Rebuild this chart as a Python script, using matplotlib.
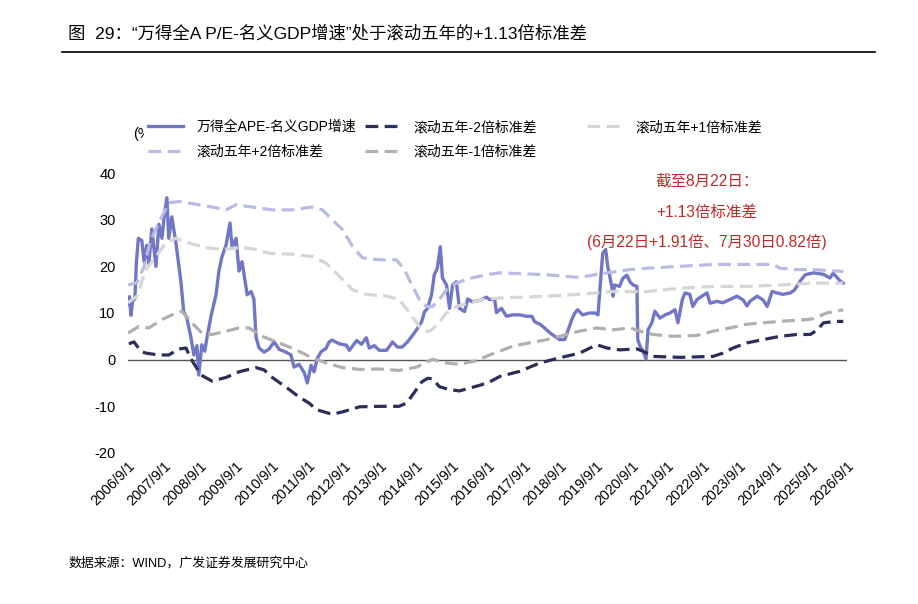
import pandas as pd
import matplotlib
matplotlib.use('Agg')
import matplotlib.pyplot as plt
from matplotlib.lines import Line2D

plt.rcParams['font.family'] = ['Liberation Sans', 'Noto Sans CJK SC', 'DejaVu Sans']
plt.rcParams['axes.unicode_minus'] = False

# ---- data ----
main_dates = [
    '2006-09-01', '2006-09-15', '2006-10-01', '2006-10-20', '2006-11-10', '2006-11-25', '2006-12-15',
    '2007-01-20', '2007-02-12', '2007-03-10', '2007-04-01', '2007-05-01', '2007-06-12', '2007-07-12',
    '2007-08-12', '2007-09-05', '2007-10-01', '2007-10-20', '2007-11-20', '2008-01-01', '2008-02-01',
    '2008-02-20', '2008-03-20', '2008-04-20', '2008-06-01', '2008-07-01', '2008-08-01', '2008-08-20',
    '2008-09-20', '2008-10-20', '2008-11-12', '2008-12-25', '2009-02-12', '2009-03-12', '2009-04-12',
    '2009-05-25', '2009-07-03', '2009-07-25', '2009-09-03', '2009-10-03', '2009-11-03', '2009-12-25',
    '2010-02-03', '2010-03-03', '2010-03-25', '2010-04-25', '2010-06-15', '2010-08-05', '2010-09-25',
    '2010-11-15', '2011-01-25', '2011-03-15', '2011-04-15', '2011-06-05', '2011-07-28', '2011-08-28',
    '2011-10-05', '2011-11-05', '2011-12-05', '2012-01-15', '2012-03-05', '2012-04-05', '2012-05-05',
    '2012-07-18', '2012-09-28', '2012-10-28', '2013-01-10', '2013-02-28', '2013-04-18', '2013-05-18',
    '2013-07-10', '2013-08-28', '2013-11-10', '2014-01-10', '2014-03-01', '2014-04-18', '2014-06-10',
    '2014-08-01', '2014-09-20', '2014-11-01', '2014-12-01', '2015-01-01', '2015-02-10', '2015-03-10',
    '2015-04-10', '2015-05-10', '2015-06-01', '2015-07-12', '2015-08-12', '2015-09-12', '2015-10-20',
    '2015-11-20', '2016-01-12', '2016-02-12', '2016-04-01', '2016-06-12', '2016-08-20', '2016-09-20',
    '2016-11-12', '2016-12-01', '2017-01-20', '2017-03-12', '2017-05-12', '2017-07-25', '2017-10-03',
    '2017-11-25', '2017-12-25', '2018-02-15', '2018-04-03', '2018-05-25', '2018-07-15', '2018-09-03',
    '2018-10-25', '2018-11-25', '2019-01-05', '2019-02-05', '2019-03-05', '2019-04-25', '2019-07-05',
    '2019-08-28', '2019-09-28', '2019-10-15', '2019-11-15', '2019-12-15', '2020-01-05', '2020-02-15',
    '2020-02-28', '2020-03-15', '2020-05-05', '2020-06-05', '2020-07-18', '2020-08-18', '2020-09-18',
    '2020-10-28', '2020-11-05', '2020-11-28', '2020-12-28', '2021-01-28', '2021-02-18', '2021-03-28',
    '2021-04-28', '2021-06-18', '2021-08-10', '2021-09-28', '2021-11-18', '2021-12-18', '2022-02-01',
    '2022-03-01', '2022-04-18', '2022-05-18', '2022-07-01', '2022-08-18', '2022-10-10', '2022-11-10',
    '2023-01-20', '2023-03-20', '2023-06-01', '2023-08-10', '2023-10-12', '2023-11-20', '2023-12-20',
    '2024-03-01', '2024-05-01', '2024-06-12', '2024-08-01', '2024-09-20', '2024-11-20', '2025-02-03',
    '2025-03-20', '2025-05-12', '2025-07-03', '2025-09-25', '2026-01-03', '2026-03-12', '2026-04-12',
    '2026-05-15', '2026-06-25', '2026-07-25',
]
main_vals = [
    12.0, 13.5, 9.5, 12.8, 13.0, 20.8, 26.0,
    25.5, 21.0, 24.5, 20.5, 28.0, 20.0, 29.0,
    26.0, 31.0, 34.7, 26.0, 30.6, 25.0, 20.0,
    16.8, 10.3, 9.0, 4.8, 1.0, 3.0, -3.3,
    3.2, 1.8, 4.8, 9.6, 14.0, 18.9, 22.0,
    24.6, 29.3, 24.0, 26.0, 19.0, 21.0, 13.9,
    14.6, 13.0, 4.8, 2.5, 1.6, 2.3, 3.8,
    2.2, 1.6, 1.0, -1.6, -1.0, -2.8, -5.0,
    -1.2, -2.6, 0.2, 1.7, 2.4, 3.8, 4.2,
    3.4, 3.1, 2.0, 4.1, 3.3, 4.7, 2.5,
    3.0, 2.0, 2.0, 3.8, 2.7, 2.7, 3.8,
    5.2, 6.7, 8.1, 10.3, 11.0, 13.9, 18.2,
    19.6, 24.2, 17.5, 16.0, 11.0, 16.0, 16.7,
    11.0, 10.3, 13.0, 12.4, 12.7, 13.4, 12.9,
    12.9, 10.1, 11.0, 9.3, 9.6, 9.6, 9.3,
    9.3, 8.1, 7.6, 6.8, 5.8, 5.0, 4.3,
    4.3, 6.1, 8.6, 10.0, 10.7, 9.6, 10.0,
    10.0, 9.6, 14.3, 22.8, 23.6, 20.0, 15.7,
    13.6, 16.0, 15.7, 17.4, 18.1, 16.7, 16.0,
    15.7, 4.3, 2.9, 1.9, 0.1, 6.4, 7.9,
    10.4, 8.9, 9.6, 10.0, 10.7, 7.9, 12.9,
    14.3, 14.0, 11.4, 12.9, 13.6, 14.3, 12.1,
    12.5, 12.2, 12.9, 13.6, 12.8, 11.5, 12.5,
    13.6, 12.8, 11.4, 14.6, 14.3, 14.0, 14.3,
    15.0, 16.8, 18.2, 18.6, 18.3, 17.5, 18.5,
    17.8, 16.8, 16.4,
]

m2_dates = [
    '2006-09-10', '2006-11-01', '2007-01-10', '2007-03-01', '2007-07-12', '2007-10-20', '2008-02-01',
    '2008-04-12', '2008-06-01', '2008-09-12', '2009-01-03', '2009-05-25', '2009-10-03', '2010-03-25',
    '2010-06-15', '2010-09-05', '2011-02-25', '2011-06-05', '2011-09-15', '2011-11-28', '2012-05-05',
    '2012-08-18', '2013-02-10', '2013-08-28', '2014-03-18', '2014-06-01', '2014-08-20', '2014-11-01',
    '2015-01-01', '2015-02-20', '2015-05-01', '2015-08-12', '2015-11-20', '2016-03-01', '2016-06-12',
    '2016-09-20', '2017-01-03', '2017-07-25', '2018-02-15', '2018-09-03', '2019-03-25', '2019-09-15',
    '2019-12-28', '2020-05-05', '2020-10-28', '2020-12-28', '2021-04-10', '2022-01-10', '2022-12-10',
    '2023-03-20', '2023-07-01', '2023-11-20', '2024-05-01', '2024-10-20', '2025-04-12', '2025-08-25',
    '2025-11-05', '2026-01-05', '2026-05-15', '2026-07-25',
]
m2_vals = [
    3.4, 3.8, 1.8, 1.4, 1.0, 1.0, 2.3,
    2.5, 0.2, -3.3, -4.6, -3.8, -2.6, -1.7,
    -2.2, -3.8, -6.4, -8.0, -9.3, -10.7, -11.7,
    -11.2, -10.1, -10.0, -10.0, -9.3, -7.0, -4.8,
    -4.0, -4.1, -5.8, -6.4, -6.7, -6.1, -5.5,
    -4.8, -3.6, -2.5, -0.7, 0.4, 1.4, 3.2,
    2.5, 2.1, 2.3, 1.8, 0.7, 0.5, 0.7,
    1.4, 2.5, 3.6, 4.3, 5.0, 5.4, 5.4,
    6.4, 7.9, 8.2, 8.2,
]

p1_dates = [
    '2006-09-01', '2006-12-01', '2007-03-01', '2007-06-12', '2007-09-20', '2008-01-01', '2008-05-12',
    '2008-11-03', '2009-04-12', '2009-10-03', '2010-02-15', '2010-08-05', '2011-03-25', '2011-10-15',
    '2012-03-05', '2012-07-18', '2012-11-28', '2013-04-18', '2013-11-10', '2014-03-18', '2014-07-01',
    '2014-10-10', '2015-01-01', '2015-02-20', '2015-05-01', '2015-07-12', '2015-10-20', '2016-03-01',
    '2016-07-12', '2017-01-03', '2018-04-25', '2019-03-25', '2020-02-28', '2021-02-05', '2022-01-10',
    '2022-12-10', '2023-11-20', '2024-10-20', '2025-09-25', '2026-07-25',
]
p1_vals = [
    12.2, 13.6, 19.3, 22.1, 25.0, 26.0, 25.0,
    24.0, 23.6, 24.0, 23.8, 22.8, 22.6, 22.1,
    20.7, 17.9, 15.0, 14.0, 13.6, 12.9, 10.0,
    7.1, 6.0, 6.5, 8.1, 10.0, 11.4, 12.1,
    12.9, 13.2, 13.6, 14.0, 14.6, 14.6, 15.3,
    15.7, 15.7, 16.0, 16.4, 16.4,
]

p2_dates = [
    '2006-09-01', '2006-12-01', '2007-02-12', '2007-04-20', '2007-07-12', '2007-10-20', '2008-02-01',
    '2008-08-20', '2009-01-03', '2009-05-25', '2009-09-03', '2010-02-15', '2010-09-05', '2011-03-25',
    '2011-10-15', '2012-01-28', '2012-05-05', '2012-08-18', '2012-11-28', '2013-03-10', '2013-08-28',
    '2014-02-18', '2014-05-10', '2014-08-01', '2014-10-10', '2014-12-20', '2015-02-20', '2015-05-01',
    '2015-07-12', '2015-10-20', '2016-03-01', '2016-08-20', '2017-01-03', '2018-04-25', '2019-03-25',
    '2019-09-15', '2020-08-18', '2021-02-05', '2022-01-10', '2022-12-10', '2024-08-12', '2024-10-20',
    '2025-04-12', '2025-09-25', '2026-07-25',
]
p2_vals = [
    16.0, 16.5, 20.0, 25.7, 29.3, 33.6, 33.9,
    33.2, 32.7, 32.1, 33.2, 32.7, 32.1, 32.1,
    32.7, 32.1, 30.0, 27.9, 24.3, 21.8, 21.4,
    21.4, 19.3, 15.7, 12.9, 11.4, 11.4, 12.9,
    15.0, 16.4, 17.4, 18.2, 18.6, 18.2, 17.6,
    18.3, 19.3, 19.6, 20.0, 20.4, 20.4, 19.6,
    19.3, 19.3, 18.9,
]

m1_dates = [
    '2006-09-01', '2006-12-20', '2007-04-01', '2007-08-12', '2008-01-01', '2008-03-01', '2008-06-12',
    '2008-09-20', '2009-01-03', '2009-05-25', '2009-10-03', '2010-01-15', '2010-05-25', '2010-11-15',
    '2011-05-05', '2011-10-15', '2012-03-05', '2012-08-18', '2013-02-10', '2013-08-28', '2014-03-18',
    '2014-09-10', '2015-02-20', '2015-07-12', '2015-11-20', '2016-05-12', '2016-09-20', '2017-01-03',
    '2017-05-12', '2018-04-25', '2019-03-25', '2019-09-15', '2020-02-28', '2020-08-18', '2020-11-28',
    '2021-04-10', '2021-10-28', '2022-07-01', '2022-12-10', '2023-06-01', '2023-11-20', '2024-10-20',
    '2025-07-25', '2025-09-25', '2026-02-05', '2026-07-25',
]
m1_vals = [
    5.7, 7.1, 6.8, 8.6, 10.0, 10.4, 7.9,
    5.7, 5.4, 6.1, 6.8, 6.8, 5.0, 3.6,
    2.1, 0.4, -0.7, -1.7, -2.1, -2.0, -2.3,
    -1.6, 0.1, -0.7, -1.0, -0.2, 1.0, 1.8,
    2.9, 4.3, 6.1, 6.8, 6.4, 6.8, 6.1,
    5.4, 5.0, 5.2, 6.1, 6.8, 7.6, 8.2,
    8.6, 8.8, 10.0, 10.7,
]

series_labels = ['万得全APE-名义GDP增速', '滚动五年-2倍标准差', '滚动五年+1倍标准差',
                 '滚动五年+2倍标准差', '滚动五年-1倍标准差']
tick_labels = [f'{y}/9/1' for y in range(2006, 2027)]
yticks = [-20, -10, 0, 10, 20, 30, 40]

title = '图  29：“万得全A P/E-名义GDP增速”处于滚动五年的+1.13倍标准差'
note = ['截至8月22日：', '+1.13倍标准差', '(6月22日+1.91倍、7月30日0.82倍)']
source = '数据来源：WIND，广发证券发展研究中心'

# ---- colours ----
c_main = '#7276c6'
c_m2 = '#2b2d5a'
c_p1 = '#d6d6d6'
c_p2 = '#b9bce2'
c_m1 = '#b0b0b0'
c_red = '#bf2a26'

fig = plt.figure(figsize=(9.18, 6.04), dpi=100)
ax = fig.add_axes([128 / 918, 1 - 453 / 604, 719 / 918, 280 / 604])

dash = (4, 2)
ln_main, = ax.plot(pd.to_datetime(main_dates), main_vals, color=c_main, lw=2.4, zorder=2)
ln_p1, = ax.plot(pd.to_datetime(p1_dates), p1_vals, color=c_p1, lw=2.3, dashes=dash, zorder=3)
ln_m1, = ax.plot(pd.to_datetime(m1_dates), m1_vals, color=c_m1, lw=2.3, dashes=dash, zorder=3)
ln_p2, = ax.plot(pd.to_datetime(p2_dates), p2_vals, color=c_p2, lw=2.3, dashes=dash, zorder=3)
ln_m2, = ax.plot(pd.to_datetime(m2_dates), m2_vals, color=c_m2, lw=2.3, dashes=dash, zorder=4)

ax.axhline(0, color='#555555', lw=1.0, zorder=1)

ax.set_ylim(-20, 40)
ax.set_yticks(yticks)
ax.set_xlim(pd.Timestamp('2006-09-01'), pd.Timestamp('2026-09-01'))
xt = pd.to_datetime([f'{y}-09-01' for y in range(2006, 2027)])
ax.set_xticks(xt)
ax.set_xticklabels(tick_labels, rotation=45, ha='right', va='top', rotation_mode='anchor', fontsize=10.3)
ax.tick_params(axis='x', length=0, pad=4)
ax.tick_params(axis='y', length=0, pad=9, labelsize=10.5)
for s in ax.spines.values():
    s.set_visible(False)
ax.patch.set_alpha(0)

# unit label, partly hidden behind the legend like the original
fig.text(133 / 918, 1 - 134 / 604, '(%)', fontsize=10.5, va='center', ha='left', zorder=1)

leg_kw = dict(loc='upper left', fontsize=10, frameon=True, facecolor='white', edgecolor='none',
              framealpha=1, borderpad=0.3, borderaxespad=0, handlelength=2.5, handletextpad=1.0,
              labelspacing=0.75)
leg1 = fig.legend([ln_main, ln_p2], [series_labels[0], series_labels[3]],
                  bbox_to_anchor=(144 / 918, 1 - 116 / 604), **leg_kw)
leg2 = fig.legend([ln_m2, ln_m1], [series_labels[1], series_labels[4]],
                  bbox_to_anchor=(361 / 918, 1 - 116 / 604), **leg_kw)
leg3 = fig.legend([ln_p1], [series_labels[2]],
                  bbox_to_anchor=(583 / 918, 1 - 116 / 604), **leg_kw)
for lg in (leg1, leg2, leg3):
    lg.set_zorder(5)

# red note
for txt, yp in zip(note, [181, 212, 242]):
    fig.text(707 / 918, 1 - yp / 604, txt, color=c_red, fontsize=11.2, ha='center', va='center')

# title and rule
fig.text(68 / 918, 1 - 33 / 604, title, fontsize=12.5, ha='left', va='center')
fig.add_artist(Line2D([62 / 918, 875 / 918], [1 - 52 / 604, 1 - 52 / 604], color='black', lw=1.2))

fig.text(68 / 918, 1 - 563 / 604, source, fontsize=9.3, ha='left', va='center')

fig.savefig('out.png', dpi=100)
